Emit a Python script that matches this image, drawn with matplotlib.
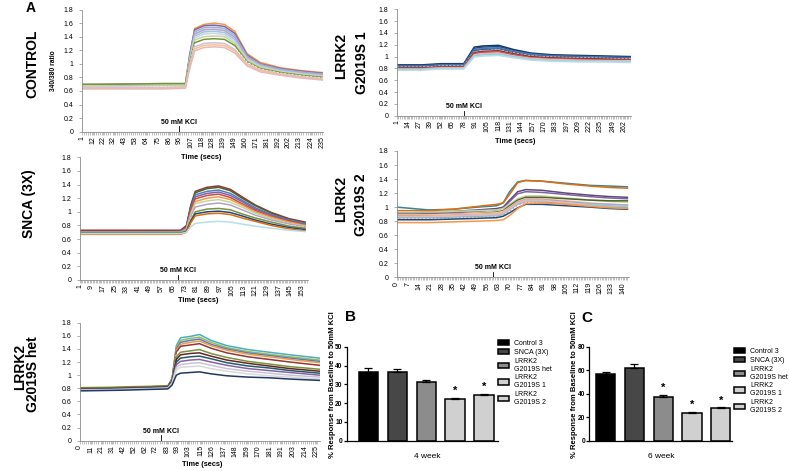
import matplotlib.pyplot as plt
from matplotlib.patches import Patch
import numpy as np

plt.rcParams['font.family'] = ['Liberation Sans', 'DejaVu Sans']

# ---------------- data ----------------
ratio_ticks = [0, 0.2, 0.4, 0.6, 0.8, 1.0, 1.2, 1.4, 1.6, 1.8]
ratio_labels = ['0', '0.2', '0.4', '0.6', '0.8', '1', '1.2', '1.4', '1.6', '1.8']

# CONTROL
ctrl_t = [1, 40, 80, 102, 106, 111, 120, 130, 140, 150, 162, 175, 195, 215, 236]
ctrl_traces = [
    [0.66, 0.67, 0.67, 0.68, 1.10, 1.52, 1.58, 1.60, 1.58, 1.48, 1.15, 1.02, 0.94, 0.90, 0.87],
    [0.69, 0.70, 0.70, 0.70, 1.12, 1.50, 1.56, 1.57, 1.55, 1.45, 1.13, 1.00, 0.93, 0.89, 0.86],
    [0.68, 0.68, 0.69, 0.69, 1.08, 1.47, 1.53, 1.54, 1.52, 1.42, 1.11, 0.99, 0.92, 0.88, 0.85],
    [0.67, 0.67, 0.68, 0.68, 1.06, 1.44, 1.50, 1.51, 1.49, 1.39, 1.10, 0.98, 0.91, 0.87, 0.84],
    [0.67, 0.67, 0.67, 0.68, 1.05, 1.41, 1.47, 1.48, 1.46, 1.36, 1.08, 0.97, 0.90, 0.86, 0.83],
    [0.66, 0.66, 0.67, 0.67, 1.03, 1.38, 1.44, 1.45, 1.43, 1.33, 1.07, 0.96, 0.89, 0.85, 0.82],
    [0.68, 0.69, 0.69, 0.69, 1.02, 1.35, 1.40, 1.41, 1.40, 1.30, 1.05, 0.95, 0.88, 0.84, 0.81],
    [0.70, 0.70, 0.71, 0.71, 1.01, 1.31, 1.36, 1.37, 1.36, 1.27, 1.03, 0.93, 0.87, 0.83, 0.80],
    [0.65, 0.65, 0.66, 0.66, 0.98, 1.28, 1.33, 1.34, 1.33, 1.24, 1.02, 0.92, 0.86, 0.82, 0.79],
    [0.65, 0.65, 0.65, 0.66, 0.96, 1.25, 1.30, 1.31, 1.30, 1.21, 1.00, 0.91, 0.85, 0.81, 0.78],
    [0.64, 0.64, 0.64, 0.65, 0.94, 1.22, 1.27, 1.28, 1.27, 1.19, 0.99, 0.90, 0.84, 0.80, 0.77],
    [0.63, 0.63, 0.63, 0.64, 0.92, 1.19, 1.24, 1.25, 1.24, 1.16, 0.97, 0.88, 0.83, 0.79, 0.76],
]
ctrl_colors = ['#F79646', '#8064A2', '#95B3D7', '#B3A2C7', '#A5C0E0', '#C6D3E8',
               '#C3D69B', '#77933C', 'white', '#CCC1DA', '#FAC090', '#E6B9B8']
ctrl_xticks = [1, 12, 22, 32, 43, 53, 64, 75, 86, 96, 107, 118, 128, 139, 149, 160,
               171, 181, 192, 202, 213, 224, 235]
ctrl_kcl = 96

# SNCA (3X)
snca_t = [1, 35, 70, 74, 77, 80, 88, 96, 104, 112, 121, 132, 144, 155]
snca_traces = [
    [0.73, 0.73, 0.73, 0.80, 1.10, 1.30, 1.36, 1.38, 1.33, 1.22, 1.10, 0.99, 0.90, 0.85],
    [0.71, 0.71, 0.72, 0.78, 1.08, 1.28, 1.34, 1.36, 1.31, 1.20, 1.09, 0.98, 0.89, 0.84],
    [0.70, 0.70, 0.71, 0.77, 1.05, 1.25, 1.30, 1.32, 1.27, 1.17, 1.06, 0.96, 0.88, 0.83],
    [0.71, 0.71, 0.71, 0.77, 1.03, 1.22, 1.27, 1.29, 1.24, 1.15, 1.04, 0.95, 0.87, 0.82],
    [0.69, 0.69, 0.70, 0.76, 1.01, 1.19, 1.24, 1.26, 1.21, 1.12, 1.02, 0.93, 0.86, 0.81],
    [0.70, 0.70, 0.70, 0.75, 0.98, 1.15, 1.20, 1.22, 1.18, 1.10, 1.00, 0.92, 0.85, 0.80],
    [0.69, 0.69, 0.69, 0.74, 0.96, 1.12, 1.16, 1.18, 1.14, 1.07, 0.98, 0.90, 0.83, 0.79],
    [0.70, 0.70, 0.70, 0.74, 0.93, 1.07, 1.11, 1.13, 1.10, 1.03, 0.95, 0.88, 0.82, 0.78],
    [0.68, 0.68, 0.68, 0.72, 0.90, 1.03, 1.07, 1.09, 1.06, 1.00, 0.93, 0.86, 0.80, 0.77],
    [0.69, 0.69, 0.69, 0.72, 0.88, 1.00, 1.04, 1.05, 1.03, 0.97, 0.91, 0.85, 0.79, 0.76],
    [0.68, 0.68, 0.68, 0.71, 0.86, 0.97, 1.00, 1.01, 0.99, 0.94, 0.88, 0.82, 0.77, 0.74],
    [0.67, 0.67, 0.67, 0.70, 0.84, 0.94, 0.97, 0.98, 0.96, 0.91, 0.86, 0.80, 0.75, 0.72],
    [0.68, 0.68, 0.68, 0.70, 0.78, 0.83, 0.85, 0.86, 0.85, 0.82, 0.79, 0.76, 0.73, 0.71],
]
snca_colors = ['#943634', '#4F6228', '#4F81BD', '#8064A2', '#C0504D', '#F79646', '#C3D69B',
               '#B3A2C7', 'white', '#77933C', '#1F497D', '#E46C0A', '#B7DEE8']
snca_xticks = [1, 9, 17, 25, 33, 41, 49, 57, 65, 73, 81, 89, 97, 105, 113, 121, 129, 137, 145, 153]
snca_kcl = 68

# LRRK2 G2019S het
het_t = [0, 40, 84, 88, 92, 96, 105, 114, 125, 140, 160, 180, 200, 228]
het_traces = [
    [0.80, 0.81, 0.83, 0.95, 1.45, 1.57, 1.59, 1.62, 1.53, 1.45, 1.39, 1.35, 1.31, 1.26],
    [0.81, 0.82, 0.84, 0.95, 1.42, 1.53, 1.56, 1.58, 1.50, 1.42, 1.36, 1.32, 1.28, 1.23],
    [0.80, 0.81, 0.83, 0.94, 1.40, 1.50, 1.53, 1.55, 1.47, 1.40, 1.34, 1.30, 1.26, 1.21],
    [0.79, 0.80, 0.82, 0.93, 1.38, 1.47, 1.50, 1.52, 1.45, 1.38, 1.32, 1.28, 1.24, 1.19],
    [0.80, 0.81, 0.83, 0.93, 1.35, 1.44, 1.46, 1.48, 1.41, 1.34, 1.28, 1.24, 1.20, 1.15],
    [0.79, 0.80, 0.82, 0.92, 1.32, 1.40, 1.42, 1.44, 1.38, 1.31, 1.25, 1.21, 1.17, 1.12],
    [0.80, 0.81, 0.83, 0.92, 1.28, 1.35, 1.37, 1.39, 1.33, 1.27, 1.21, 1.17, 1.13, 1.09],
    [0.79, 0.80, 0.82, 0.91, 1.24, 1.31, 1.33, 1.34, 1.29, 1.23, 1.18, 1.14, 1.10, 1.06],
    [0.78, 0.79, 0.81, 0.90, 1.20, 1.26, 1.28, 1.29, 1.25, 1.19, 1.14, 1.11, 1.07, 1.03],
    [0.78, 0.79, 0.81, 0.89, 1.16, 1.21, 1.23, 1.24, 1.20, 1.15, 1.10, 1.07, 1.04, 1.00],
    [0.77, 0.78, 0.80, 0.88, 1.12, 1.16, 1.18, 1.19, 1.15, 1.10, 1.06, 1.03, 1.00, 0.97],
    [0.77, 0.78, 0.80, 0.87, 1.08, 1.12, 1.13, 1.14, 1.10, 1.06, 1.02, 0.99, 0.97, 0.94],
    [0.76, 0.77, 0.79, 0.85, 1.00, 1.03, 1.04, 1.05, 1.02, 0.99, 0.97, 0.96, 0.94, 0.92],
]
het_colors = ['#4BACC6', '#9BBB59', '#4F81BD', '#F79646', '#943634', 'white', '#77933C',
              '#632523', '#215968', '#8064A2', '#CCC1DA', '#D9D9D9', '#1F3864']
het_xticks = [0, 11, 21, 31, 42, 52, 62, 72, 83, 93, 103, 115, 126, 137, 148, 159, 170,
              181, 191, 203, 214, 225]
het_kcl = 77

# LRRK2 G2019S 1
g1_t = [1, 30, 52, 65, 78, 84, 90, 100, 118, 135, 155, 180, 210, 240, 270]
g1_traces = [
    [0.86, 0.86, 0.88, 0.88, 0.88, 1.02, 1.16, 1.18, 1.19, 1.12, 1.06, 1.03, 1.02, 1.01, 1.00],
    [0.85, 0.85, 0.87, 0.87, 0.87, 1.00, 1.14, 1.16, 1.17, 1.10, 1.05, 1.02, 1.01, 1.00, 0.99],
    [0.84, 0.84, 0.86, 0.86, 0.86, 0.99, 1.12, 1.14, 1.15, 1.09, 1.04, 1.01, 1.00, 0.99, 0.98],
    [0.83, 0.83, 0.85, 0.85, 0.85, 0.97, 1.10, 1.12, 1.13, 1.07, 1.02, 1.00, 0.99, 0.98, 0.97],
    [0.82, 0.82, 0.84, 0.84, 0.84, 0.96, 1.08, 1.10, 1.11, 1.06, 1.01, 0.99, 0.98, 0.97, 0.96],
    [0.81, 0.81, 0.83, 0.83, 0.83, 0.95, 1.07, 1.09, 1.10, 1.05, 1.00, 0.98, 0.97, 0.96, 0.95],
    [0.80, 0.80, 0.82, 0.82, 0.82, 0.93, 1.05, 1.07, 1.08, 1.03, 0.98, 0.96, 0.95, 0.94, 0.94],
    [0.79, 0.79, 0.81, 0.81, 0.81, 0.92, 1.03, 1.05, 1.06, 1.01, 0.97, 0.95, 0.94, 0.93, 0.93],
    [0.78, 0.78, 0.80, 0.80, 0.80, 0.91, 1.01, 1.03, 1.04, 1.00, 0.95, 0.93, 0.92, 0.92, 0.91],
    [0.77, 0.77, 0.79, 0.79, 0.79, 0.89, 0.99, 1.01, 1.02, 0.98, 0.94, 0.92, 0.91, 0.91, 0.90],
]
g1_colors = ['#17375E', '#1F497D', '#4F81BD', '#376092', 'white', '#943634', '#C0504D',
             '#E6B9B8', '#93CDDD', '#B7DEE8']
g1_xticks = [1, 14, 27, 39, 52, 65, 78, 91, 105, 118, 131, 144, 157, 170, 183, 197, 209,
             222, 235, 249, 262]
g1_kcl = 78

# LRRK2 G2019S 2
g2_t = [0, 10, 20, 35, 50, 62, 66, 70, 75, 80, 90, 105, 120, 132, 143]
g2_traces = [
    [1.00, 0.98, 0.96, 0.97, 1.00, 1.02, 1.06, 1.22, 1.36, 1.38, 1.37, 1.34, 1.31, 1.30, 1.29],
    [0.95, 0.95, 0.95, 0.97, 1.01, 1.04, 1.06, 1.18, 1.35, 1.38, 1.37, 1.33, 1.30, 1.28, 1.27],
    [0.92, 0.92, 0.93, 0.94, 0.96, 0.98, 1.00, 1.10, 1.22, 1.25, 1.24, 1.20, 1.17, 1.15, 1.14],
    [0.90, 0.90, 0.91, 0.92, 0.94, 0.96, 0.99, 1.08, 1.19, 1.22, 1.21, 1.18, 1.15, 1.13, 1.12],
    [0.93, 0.93, 0.93, 0.94, 0.95, 0.96, 0.98, 1.04, 1.12, 1.16, 1.16, 1.13, 1.10, 1.08, 1.07],
    [0.88, 0.88, 0.89, 0.90, 0.91, 0.93, 0.95, 1.02, 1.10, 1.14, 1.14, 1.12, 1.10, 1.09, 1.09],
    [0.89, 0.89, 0.89, 0.90, 0.91, 0.92, 0.94, 1.00, 1.08, 1.12, 1.12, 1.09, 1.06, 1.04, 1.03],
    [0.86, 0.86, 0.87, 0.88, 0.89, 0.90, 0.92, 0.99, 1.07, 1.11, 1.11, 1.08, 1.05, 1.04, 1.03],
    [0.85, 0.85, 0.85, 0.86, 0.87, 0.89, 0.91, 0.97, 1.05, 1.09, 1.09, 1.06, 1.04, 1.02, 1.01],
    [0.84, 0.84, 0.84, 0.85, 0.86, 0.87, 0.89, 0.95, 1.03, 1.07, 1.07, 1.05, 1.02, 1.00, 0.99],
    [0.87, 0.87, 0.87, 0.88, 0.89, 0.90, 0.92, 0.98, 1.06, 1.10, 1.10, 1.06, 1.02, 0.99, 0.97],
    [0.83, 0.83, 0.83, 0.84, 0.85, 0.86, 0.88, 0.94, 1.02, 1.06, 1.06, 1.03, 1.00, 0.98, 0.97],
    [0.82, 0.82, 0.82, 0.83, 0.84, 0.85, 0.87, 0.92, 0.99, 1.04, 1.04, 1.02, 1.00, 0.98, 0.97],
    [0.78, 0.78, 0.78, 0.79, 0.80, 0.81, 0.82, 0.88, 0.98, 1.05, 1.06, 1.04, 1.01, 0.99, 0.98],
]
g2_colors = ['#31859C', '#E46C0A', '#5F497A', '#8064A2', '#C3D69B', '#4F6228', '#FAC090',
             '#B3A2C7', '#93CDDD', '#A6A6A6', '#E6B9B8', 'white', '#1F497D', '#F79646']
g2_xticks = [0, 7, 14, 21, 28, 35, 42, 49, 56, 63, 70, 77, 84, 91, 98, 105, 112, 119, 126, 133, 140]
g2_kcl = 60

# bar charts (B, C)
groups = ['Control 3', 'SNCA (3X)', 'LRRK2\nG2019S het', 'LRRK2\nG2019S 1', 'LRRK2\nG2019S 2']
bar_colors = ['#000000', '#474747', '#8c8c8c', '#d0d0d0', '#d0d0d0']
wk4_mean = [36.5, 36.3, 31.2, 22.4, 24.2]
wk4_sem = [2.0, 1.7, 1.3, 0.5, 0.7]
wk4_star = [False, False, False, True, True]
wk6_mean = [56.7, 62.2, 37.2, 23.6, 27.5]
wk6_sem = [1.8, 3.5, 1.6, 0.8, 0.9]
wk6_star = [False, False, True, True, True]

# ---------------- figure ----------------
W, H = 789, 471
fig = plt.figure(figsize=(W / 100, H / 100), dpi=100)


def box(x0, x1, y0, y1):
    # pixel box -> figure fraction
    return [x0 / W, 1 - y1 / H, (x1 - x0) / W, (y1 - y0) / H]


def trace_panel(pos, t, traces, colors, xticks, xlim, kcl, minor):
    ax = fig.add_axes(pos)
    for vals, c in zip(traces, colors):
        if c == 'white':
            ax.plot(t, vals, color='white', lw=0.9, ls=(0, (2, 1)))
        else:
            ax.plot(t, vals, color=c, lw=1.1)
    ax.set_xlim(xlim)
    ax.set_ylim(0, 1.8)
    ax.set_yticks(ratio_ticks)
    ax.set_yticklabels(ratio_labels, fontsize=5)
    ax.set_xticks(xticks)
    ax.set_xticklabels([str(v) for v in xticks], rotation=90, fontsize=5)
    ax.set_xticks(np.arange(xlim[0], xlim[1], minor), minor=True)
    ax.tick_params(axis='x', which='both', length=2.5, width=0.4, color='#8c8c8c', pad=0.8)
    ax.tick_params(axis='y', length=2, width=0.5, color='#8c8c8c', pad=4)
    for s in ['top', 'right']:
        ax.spines[s].set_visible(False)
    for s in ['left', 'bottom']:
        ax.spines[s].set_color('#8c8c8c')
        ax.spines[s].set_linewidth(0.6)
    ax.plot([kcl, kcl], [0, 0.08], color='black', lw=0.6)
    ax.text(kcl, 0.09, '50 mM KCl', ha='center', va='bottom', fontsize=5, fontweight='bold')
    return ax


trace_panel(box(81.7, 323, 9.5, 131.7), ctrl_t, ctrl_traces, ctrl_colors,
            ctrl_xticks, (1, 236), ctrl_kcl, 2)
trace_panel(box(79.5, 308, 157.3, 280), snca_t, snca_traces, snca_colors,
            snca_xticks, (1, 157), snca_kcl, 1)
trace_panel(box(79.5, 319.5, 322.7, 440.7), het_t, het_traces, het_colors,
            het_xticks, (0, 228), het_kcl, 2)
trace_panel(box(396.7, 631, 9.3, 115.7), g1_t, g1_traces, g1_colors,
            g1_xticks, (1, 270), g1_kcl, 2)
trace_panel(box(396.7, 629, 151, 277.3), g2_t, g2_traces, g2_colors,
            g2_xticks, (0, 144), g2_kcl, 1)


def ftext(x, y, s, **kw):
    fig.text(x / W, 1 - y / H, s, **kw)


title_kw = dict(rotation=90, ha='center', va='center', fontsize=10, fontweight='bold')
ftext(32, 64, 'CONTROL', **title_kw)
ftext(29.5, 204, 'SNCA (3X)', **title_kw)
ftext(20, 367, 'LRRK2', **title_kw)
ftext(33, 374, 'G2019S het', **title_kw)
ftext(341, 56, 'LRRK2', **title_kw)
ftext(362, 63, 'G2019S 1', **title_kw)
ftext(341, 199, 'LRRK2', **title_kw)
ftext(361, 205, 'G2019S 2', **title_kw)

ftext(53.5, 71, '340/380 ratio', rotation=90, ha='center', va='center', fontsize=4.8,
      fontweight='bold')
time_kw = dict(ha='center', va='center', fontsize=5.3, fontweight='bold')
ftext(201, 158, 'Time (secs)', **time_kw)
ftext(198, 301, 'Time (secs)', **time_kw)
ftext(202, 465, 'Time (secs)', **time_kw)
ftext(515, 142, 'Time (secs)', **time_kw)

ftext(31, 8.5, 'A', ha='center', va='center', fontsize=10, fontweight='bold')
ftext(350, 317, 'B', ha='center', va='center', fontsize=11, fontweight='bold')
ftext(587, 318, 'C', ha='center', va='center', fontsize=11, fontweight='bold')


def bar_panel(pos, means, sems, stars, ymax, ystep, xlim, week, leg_xy, ylab_x, week_xy):
    ax = fig.add_axes(pos)
    x = np.arange(len(means))
    ax.bar(x, means, width=0.67, color=bar_colors, edgecolor='black', linewidth=1.1)
    ax.errorbar(x, means, yerr=[[0] * len(means), sems], fmt='none', ecolor='black',
                elinewidth=0.9, capsize=3, capthick=0.9)
    for i, s in enumerate(stars):
        if s:
            ax.annotate('*', (i, means[i] + sems[i]), xytext=(0, 5), textcoords='offset points',
                        ha='center', va='center', fontsize=8, fontweight='bold')
    ax.set_xlim(xlim)
    ax.set_ylim(0, ymax)
    ax.set_yticks(np.arange(0, ymax + 1, ystep))
    ax.set_xticks([])
    ax.tick_params(axis='y', length=2.5, width=0.9, labelsize=4.8, pad=0.5)
    for lab in ax.get_yticklabels():
        lab.set_fontweight('bold')
    for s in ['top', 'right']:
        ax.spines[s].set_visible(False)
    for s in ['left', 'bottom']:
        ax.spines[s].set_linewidth(0.9)
    handles = [Patch(facecolor=c, edgecolor='black', linewidth=1.1) for c in bar_colors]
    fig.legend(handles, groups, loc='upper left', bbox_to_anchor=(leg_xy[0] / W, 1 - leg_xy[1] / H),
               frameon=False, fontsize=5, handlelength=1.6, handleheight=0.8,
               labelspacing=0.25, handletextpad=0.7, borderaxespad=0, borderpad=0)
    ftext(ylab_x, 385, '% Response from Baseline to 50mM KCl', rotation=90, ha='center',
          va='center', fontsize=5.5, fontweight='bold')
    ftext(week_xy[0], week_xy[1], week, ha='center', va='center', fontsize=6)
    return ax


bar_panel(box(346.7, 498, 346.7, 440.7), wk4_mean, wk4_sem, wk4_star, 50, 10,
          (-0.75, 4.48), '4 week', (498, 340), 332.5, (427, 457))
bar_panel(box(589.3, 731.7, 346.7, 440.7), wk6_mean, wk6_sem, wk6_star, 80, 20,
          (-0.57, 4.38), '6 week', (734, 348), 574.5, (661.7, 456.7))

fig.savefig('out.png', dpi=100)
